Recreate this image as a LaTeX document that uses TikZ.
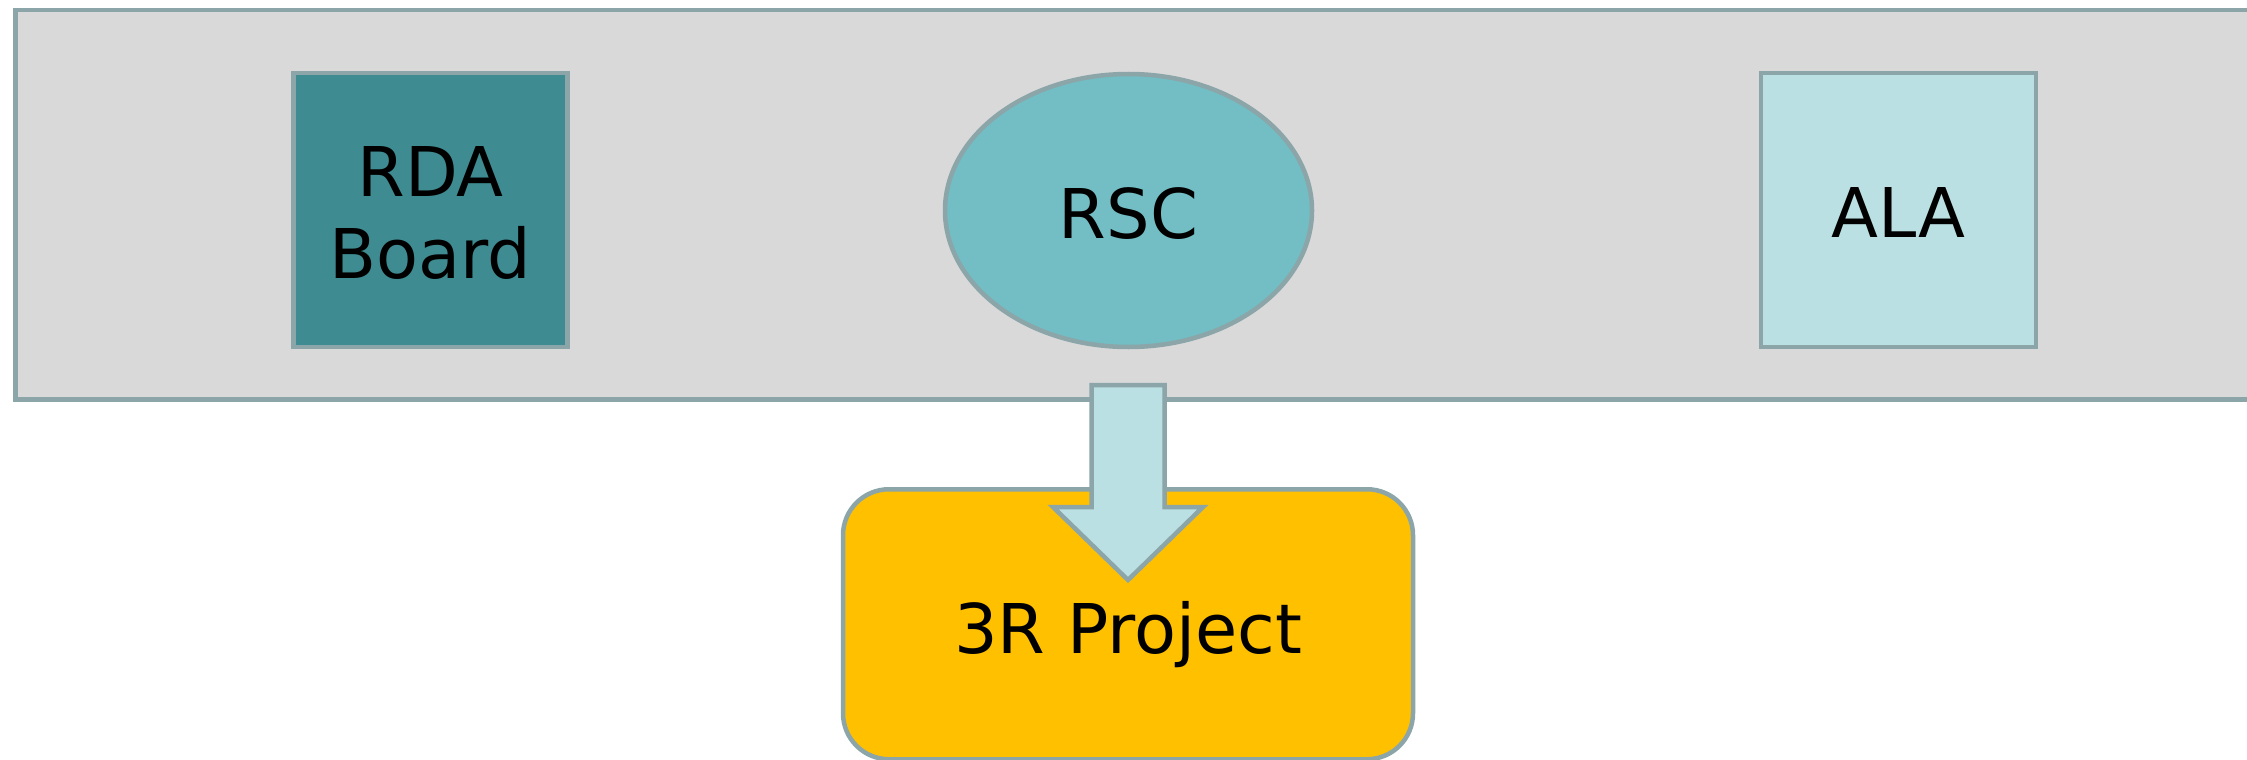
\documentclass[tikz,border=0pt]{standalone}
\usepackage{fontspec}
\setmainfont{DejaVu Sans}
\usetikzlibrary{shapes.geometric}
\definecolor{bggray}{RGB}{217,217,217}
\definecolor{edgegray}{RGB}{139,165,168}
\definecolor{darkteal}{RGB}{62,139,145}
\definecolor{midteal}{RGB}{114,190,196}
\definecolor{paleteal}{RGB}{186,224,227}
\definecolor{amber}{RGB}{255,192,0}
\begin{document}
\begin{tikzpicture}[x=1pt,y=-1pt,
  box/.style={draw=edgegray,line width=4.5pt,inner sep=0pt,align=center,
    font=\fontsize{68.6}{82}\selectfont},
  oneline/.style={text depth=0pt,text height=#1},
  blockarrow/.style={draw=edgegray,line width=4.5pt,fill=paleteal,line join=miter}]
\useasboundingbox (0,0) rectangle (2247,760);
\node[box,rectangle,fill=bggray,anchor=north west,minimum width=2300pt,minimum height=389pt] (band) at (13,8) {};
\node[box,rectangle,fill=darkteal,minimum width=274pt,minimum height=274pt,
  label={[font=\fontsize{68.6}{82}\selectfont,align=center,inner sep=0pt,yshift=-3pt]center:RDA\\Board}] (rda) at (430.5,210) {};
\node[box,ellipse,fill=midteal,minimum width=367pt,minimum height=273pt,oneline=55pt] (rsc) at (1128.5,210.5) {RSC};
\node[box,rectangle,fill=paleteal,minimum width=275pt,minimum height=274pt,oneline=55pt] (ala) at (1898.5,210) {ALA};
\node[box,rectangle,rounded corners=46pt,fill=amber,anchor=north,minimum width=570pt,minimum height=270pt,oneline=58pt] (proj) at (1128,487) {3R Project};
\coordinate (atop) at (1128,385);
\draw[blockarrow] ([xshift=-36.5pt]atop) -- ([xshift=36.5pt]atop)
  -- ([xshift=36.5pt,yshift=-122pt]atop) -- ([xshift=75pt,yshift=-122pt]atop)
  -- ([yshift=-195pt]atop) -- ([xshift=-75pt,yshift=-122pt]atop)
  -- ([xshift=-36.5pt,yshift=-122pt]atop) -- cycle;
\end{tikzpicture}
\end{document}
